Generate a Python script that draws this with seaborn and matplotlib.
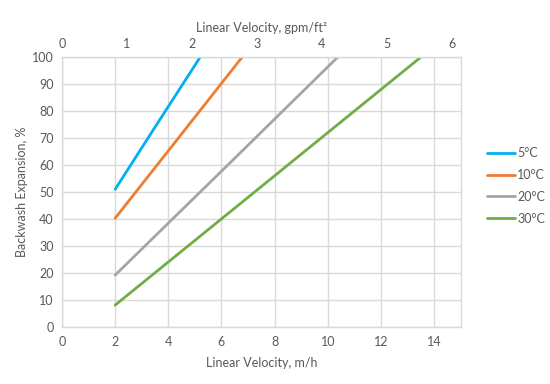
import matplotlib
matplotlib.use("Agg")
import matplotlib.pyplot as plt
import seaborn as sns
import pandas as pd

# Backwash expansion vs linear velocity at four water temperatures
temps = ["5°C", "10°C", "20°C", "30°C"]
vel_5c = [2.0, 3.6, 5.21]
exp_5c = [51.0, 75.5, 100.0]
vel_10c = [2.0, 4.4, 6.79]
exp_10c = [40.3, 70.2, 100.0]
vel_20c = [2.0, 6.2, 10.39]
exp_20c = [19.3, 59.6, 100.0]
vel_30c = [2.0, 7.8, 13.52]
exp_30c = [8.2, 54.4, 100.0]

colors = ["#00B0F0", "#ED7D31", "#A5A5A5", "#70AD47"]
M_H_PER_GPM_FT2 = 2.445

frames = []
for t, v, e in zip(temps, [vel_5c, vel_10c, vel_20c, vel_30c],
                   [exp_5c, exp_10c, exp_20c, exp_30c]):
    frames.append(pd.DataFrame({"velocity": v, "expansion": e, "temp": t}))
df = pd.concat(frames, ignore_index=True)

sns.set_style("white")
plt.rcParams["font.family"] = ["Lato", "DejaVu Sans"]
text_color = "#595959"
grid_color = "#D9D9D9"

fig = plt.figure(figsize=(5.5, 3.84), dpi=100)
ax = fig.add_axes([0.1127, 0.1477, 0.7249, 0.7046])

sns.lineplot(data=df, x="velocity", y="expansion", hue="temp",
             hue_order=temps, palette=colors, linewidth=2.0, ax=ax,
             sort=False, estimator=None)

ax.set_xlim(0, 15)
ax.set_ylim(0, 100)
ax.set_xticks(range(0, 15, 2))
ax.set_yticks(range(0, 101, 10))
ax.grid(True, color=grid_color, linewidth=1.0)
ax.set_axisbelow(True)
for s in ax.spines.values():
    s.set_color(grid_color)
    s.set_linewidth(1.0)
ax.tick_params(length=0, labelsize=9, labelcolor=text_color, pad=6)
ax.set_xlabel("Linear Velocity, m/h", fontsize=9, color=text_color, labelpad=7)
ax.set_ylabel("Backwash Expansion, %", fontsize=9, color=text_color, labelpad=3)

top = ax.secondary_xaxis("top", functions=(lambda x: x / M_H_PER_GPM_FT2,
                                           lambda x: x * M_H_PER_GPM_FT2))
top.set_xticks(range(0, 7))
top.tick_params(length=0, labelsize=9, labelcolor=text_color, pad=5)
top.spines["top"].set_visible(False)
top.set_xlabel("Linear Velocity, gpm/ft²", fontsize=9, color=text_color, labelpad=4)

ax.legend(loc="upper left", bbox_to_anchor=(1.065, 0.665), frameon=False,
          fontsize=9, labelcolor=text_color, handlelength=2.3,
          handletextpad=0.15, labelspacing=0.78, borderpad=0, borderaxespad=0)

fig.savefig("out.png", dpi=100)
